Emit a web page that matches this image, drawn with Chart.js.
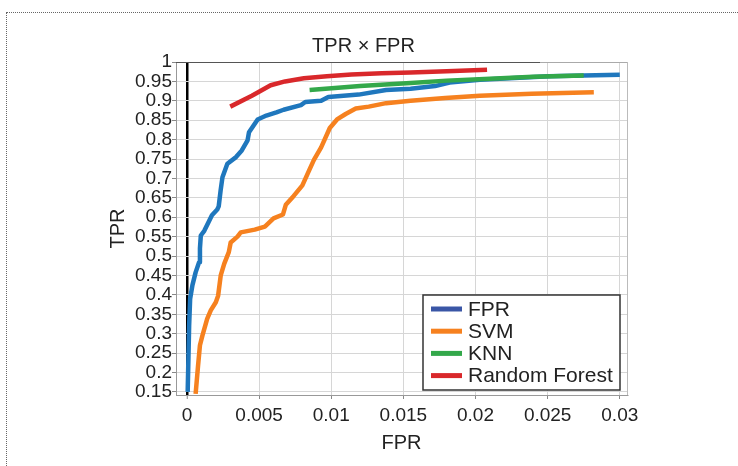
<!DOCTYPE html>
<html>
<head>
<meta charset="utf-8">
<title>TPR x FPR</title>
<script src="https://cdn.jsdelivr.net/npm/chart.js@4.4.0/dist/chart.umd.min.js"></script>
<style>
  html, body { margin: 0; padding: 0; background: #fff; }
  #wrap { position: relative; width: 738px; height: 466px; overflow: hidden; }
  #frame { position: absolute; left: 6px; top: 12px; right: -2px; bottom: -2px;
           border-top: 1px dotted #666; border-left: 1px dotted #666; }
  #roc { position: absolute; left: 0; top: 0; }
</style>
</head>
<body>
<div id="wrap">
  <div id="frame"></div>
  <canvas id="roc" width="738" height="466"></canvas>
</div>
<script>
// Series names and tick labels
var seriesNames = ["FPR", "SVM", "KNN", "Random Forest"];
var xTicks = [0, 0.005, 0.01, 0.015, 0.02, 0.025, 0.03];
var yTicks = [0.15, 0.2, 0.25, 0.3, 0.35, 0.4, 0.45, 0.5, 0.55, 0.6, 0.65,
              0.7, 0.75, 0.8, 0.85, 0.9, 0.95, 1];

// FPR (blue) curve
var fprX = [0.00005, 0.0001, 0.00015, 0.00022, 0.00038, 0.0006, 0.00084, 0.0009, 0.00096,
            0.0012, 0.0015, 0.00173, 0.0021, 0.0022, 0.00233, 0.00246, 0.0028, 0.0034,
            0.0038, 0.0042, 0.0043, 0.0049, 0.0055, 0.0062, 0.0067, 0.0079, 0.0082,
            0.0093, 0.0098, 0.0119, 0.0138, 0.0155, 0.0172, 0.0182, 0.0203, 0.0227,
            0.0251, 0.0275, 0.03];
var fprY = [0.15, 0.235, 0.32, 0.39, 0.425, 0.458, 0.484, 0.52, 0.553,
            0.565, 0.588, 0.605, 0.62, 0.628, 0.668, 0.703, 0.738, 0.755,
            0.772, 0.798, 0.819, 0.852, 0.862, 0.87, 0.877, 0.889, 0.897,
            0.9, 0.91, 0.916, 0.928, 0.931, 0.938, 0.947, 0.954, 0.959,
            0.963, 0.965, 0.967];

// SVM (orange) curve
var svmX = [0.0006, 0.00077, 0.0009, 0.00107, 0.0014, 0.00165, 0.002, 0.00216, 0.00234,
            0.00258, 0.0029, 0.00303, 0.0035, 0.00373, 0.0047, 0.0054, 0.006, 0.00665,
            0.00685, 0.0074, 0.008, 0.00846, 0.0088, 0.0093, 0.0099, 0.0104, 0.011,
            0.0117, 0.0126, 0.0138, 0.0155, 0.0179, 0.0203, 0.0239, 0.0282];
var svmY = [0.145, 0.218, 0.27, 0.295, 0.338, 0.36, 0.381, 0.398, 0.45,
            0.48, 0.51, 0.535, 0.55, 0.561, 0.568, 0.576, 0.597, 0.607,
            0.632, 0.655, 0.682, 0.72, 0.748, 0.78, 0.83, 0.852, 0.866,
            0.88, 0.885, 0.894, 0.9, 0.907, 0.913, 0.918, 0.922];

// KNN (green) curve
var knnX = [0.0085, 0.012, 0.0155, 0.018, 0.021, 0.024, 0.0275];
var knnY = [0.928, 0.938, 0.946, 0.952, 0.957, 0.962, 0.965];

// Random Forest (red) curve
var rfX = [0.003, 0.0045, 0.0058, 0.0068, 0.0081, 0.0097, 0.0114, 0.0135, 0.0155, 0.018, 0.0208];
var rfY = [0.885, 0.913, 0.94, 0.95, 0.958, 0.963, 0.968, 0.971, 0.973, 0.976, 0.98];

function pts(xs, ys) {
    return xs.map(function (x, i) { return { x: x, y: ys[i] }; });
}

var lineColors = ["#1f77bd", "#f6811f", "#33a84a", "#d9282b"];
var legendColors = ["#3a56a6", "#f6811f", "#33a84a", "#d9282b"];
var FONT = "'Liberation Sans', Arial, sans-serif";

// Frame on top/right of the plot area
var framePlugin = {
    id: "frame",
    beforeDatasetsDraw: function (chart) {
        var ctx = chart.ctx, a = chart.chartArea;
        ctx.save();
        ctx.lineWidth = 1;
        ctx.strokeStyle = "#bbb";
        ctx.beginPath();
        ctx.moveTo(a.right + 0.5, a.top);
        ctx.lineTo(a.right + 0.5, a.bottom);
        ctx.stroke();
        ctx.strokeStyle = "#555";
        ctx.beginPath();
        ctx.moveTo(a.left, a.top + 0.5);
        ctx.lineTo(540, a.top + 0.5);
        ctx.stroke();
        ctx.strokeStyle = "#aaa";
        ctx.beginPath();
        ctx.moveTo(540, a.top + 0.5);
        ctx.lineTo(a.right, a.top + 0.5);
        ctx.stroke();
        ctx.restore();
    }
};

// Legend box inside the plot, lower right
var boxLegend = {
    id: "boxLegend",
    afterDraw: function (chart) {
        var ctx = chart.ctx, a = chart.chartArea;
        var bw = 197, bh = 95;
        var bx = a.right - 7 - bw, by = a.bottom - 5 - bh;
        ctx.save();
        ctx.fillStyle = "#fff";
        ctx.fillRect(bx, by, bw, bh);
        ctx.lineWidth = 1.5;
        ctx.strokeStyle = "#333";
        ctx.strokeRect(bx, by, bw, bh);
        ctx.font = "21px " + FONT;
        ctx.textBaseline = "middle";
        ctx.fillStyle = "#222";
        seriesNames.forEach(function (name, i) {
            var cy = by + 14 + i * 22.2;
            ctx.strokeStyle = legendColors[i];
            ctx.lineWidth = 5;
            ctx.beginPath();
            ctx.moveTo(bx + 8, cy);
            ctx.lineTo(bx + 39, cy);
            ctx.stroke();
            ctx.fillText(name, bx + 45, cy + 1);
        });
        ctx.restore();
    }
};

var datasets = [
    { xs: fprX, ys: fprY, order: 4 },
    { xs: svmX, ys: svmY, order: 3 },
    { xs: knnX, ys: knnY, order: 2 },
    { xs: rfX, ys: rfY, order: 1 }
].map(function (d, i) {
    return {
        label: seriesNames[i],
        data: pts(d.xs, d.ys),
        borderColor: lineColors[i],
        backgroundColor: lineColors[i],
        borderWidth: 4.5,
        pointRadius: 0,
        tension: 0,
        fill: false,
        order: d.order,
        borderJoinStyle: "round"
    };
});

new Chart(document.getElementById("roc"), {
    type: "line",
    data: { datasets: datasets },
    options: {
        responsive: false,
        animation: false,
        layout: { padding: { top: 34, left: 100, right: 111, bottom: 7 } },
        plugins: {
            legend: { display: false },
            tooltip: { enabled: false },
            title: {
                display: true,
                text: "TPR \u00d7 FPR",
                color: "#222",
                font: { family: FONT, size: 20, weight: "normal" },
                padding: { top: 0, bottom: 4 }
            }
        },
        scales: {
            x: {
                type: "linear",
                min: -0.00076,
                max: 0.0305,
                afterBuildTicks: function (scale) {
                    scale.ticks = xTicks.map(function (v) { return { value: v }; });
                },
                afterFit: function (scale) { scale.height = 64; },
                ticks: {
                    color: "#222",
                    padding: 5,
                    maxRotation: 0,
                    autoSkip: false,
                    font: { family: FONT, size: 19 },
                    callback: function (v) { return String(v); }
                },
                grid: {
                    color: function (c) { return c.tick && c.tick.value === 0 ? "#000" : "#d6d6d6"; },
                    lineWidth: function (c) { return c.tick && c.tick.value === 0 ? 2.5 : 1; },
                    tickLength: 4,
                    tickColor: "#888",
                    tickWidth: 1
                },
                border: { display: true, color: "#999", width: 1 },
                title: {
                    display: true,
                    text: "FPR",
                    color: "#222",
                    font: { family: FONT, size: 20 },
                    padding: { top: 4, bottom: 4 }
                }
            },
            y: {
                type: "linear",
                min: 0.142,
                max: 1,
                afterBuildTicks: function (scale) {
                    scale.ticks = yTicks.map(function (v) { return { value: v }; });
                },
                afterFit: function (scale) { scale.width = 76; },
                ticks: {
                    color: "#222",
                    padding: 0,
                    autoSkip: false,
                    font: { family: FONT, size: 19 },
                    callback: function (v) { return String(v); }
                },
                grid: {
                    color: "#d6d6d6",
                    lineWidth: 1,
                    tickLength: 4,
                    tickColor: "#888"
                },
                border: { display: true, color: "#999", width: 1 },
                title: {
                    display: true,
                    text: "TPR",
                    color: "#222",
                    font: { family: FONT, size: 20 },
                    padding: { top: 6, bottom: 6 }
                }
            }
        }
    },
    plugins: [framePlugin, boxLegend]
});
</script>
</body>
</html>
